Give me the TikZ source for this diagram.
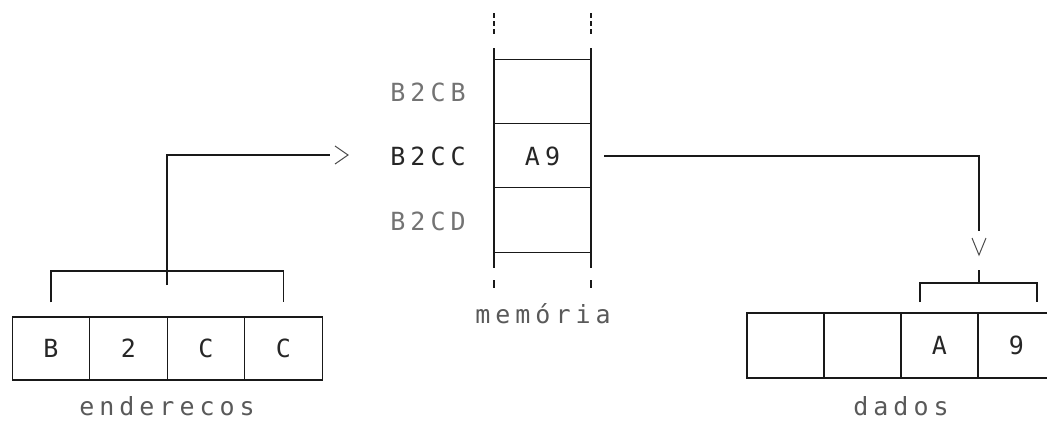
\documentclass[tikz,border=0pt]{standalone}
\usepackage{fontspec}
\newfontfamily\dotfont[LetterSpace=20]{DejaVu Sans Mono}
\begin{document}
\begin{tikzpicture}[x=1pt,y=-1pt,
    every node/.style={font=\dotfont\fontsize{25}{30}\selectfont, inner sep=0pt},
    wire/.style={line width=1.3pt, black!90},
    tip/.style={line width=1pt, black!70},
    cell/.style={draw=black!90, line width=1.3pt, minimum height=64pt, text=black!85},
    lcell/.style={cell, minimum width=77.5pt, minimum height=63pt},
    rcell/.style={cell, minimum width=77pt, minimum height=65pt},
    mcell/.style={minimum width=97pt, minimum height=64pt, text=black!85},
    addr/.style={text=black!55},
    caption/.style={text=black!65, anchor=base}]
\useasboundingbox (0,0) rectangle (1047,421);
\clip (0,0) rectangle (1047,421);

% address register
\node[lcell] (c1) at (51,348.5) {B};
\node[lcell] (c2) at (128.5,348.5) {2};
\node[lcell] (c3) at (206,348.5) {C};
\node[lcell] (c4) at (283.5,348.5) {C};
\node[caption] (end) at (167,415) {enderecos};

% memory column
\node[mcell] (m1) at (542.5,92) {};
\node[mcell] (m2) at (542.5,156) {A9};
\node[mcell] (m3) at (542.5,220) {};
\foreach \m in {m1,m2,m3}
  \draw[wire] (\m.north west) -- (\m.north east);
\draw[wire] (m3.south west) -- (m3.south east);
\draw[wire] (494,48) -- (494,268);
\draw[wire] (591,48) -- (591,268);
\draw[wire, dashed, dash pattern=on 5pt off 3pt] (494,13) -- (494,35);
\draw[wire, dashed, dash pattern=on 5pt off 3pt] (591,13) -- (591,35);
\draw[wire] (494,280) -- (494,288);
\draw[wire] (591,280) -- (591,288);
\node[addr] (a1) at (428,92) {B2CB};
\node[text=black!85] (a2) at (428,156) {B2CC};
\node[addr] (a3) at (428,221) {B2CD};
\node[caption] (mem) at (543,323) {memória};

% data register
\node[rcell] (d1) at (785.5,345.5) {};
\node[rcell] (d2) at (862.5,345.5) {};
\node[rcell] (d3) at (939.5,345.5) {A};
\node[rcell] (d4) at (1016.5,345.5) {9};
\node[caption] (dat) at (901,415) {dados};

% address bus into memory
\coordinate (lbr) at (167,285);
\coordinate (lend) at (330,155);
\draw[wire] ([yshift=14pt]c1.north) |- ([yshift=14pt]c4.north |- lbr) -- ([yshift=14pt]c4.north);
\draw[wire] (lbr) |- (lend);
\draw[tip] (335,146) -- (348,155) -- (335,164);

% data bus out of memory
\coordinate (rend) at (979,231);
\coordinate (rbr) at (979,283);
\draw[wire] ([xshift=13pt]m2.east) -| (rend);
\draw[tip] (972,238) -- (979,255) -- (986,238);
\draw[wire] (979,270) -- (rbr);
\draw[wire] (920,302) |- (rbr) -| (1037,302);
\end{tikzpicture}
\end{document}
